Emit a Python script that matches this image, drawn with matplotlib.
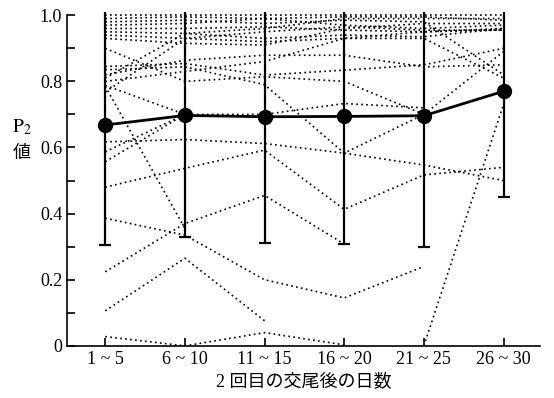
import numpy as np
import matplotlib.pyplot as plt

nan = np.nan
categories = ['1 ~ 5', '6 ~ 10', '11 ~ 15', '16 ~ 20', '21 ~ 25', '26 ~ 30']
mean_p2 = [0.668, 0.697, 0.693, 0.694, 0.696, 0.770]
lower_err = [0.305, 0.328, 0.312, 0.308, 0.298, 0.451]
upper_err = [1.05, 1.05, 1.05, 1.05, 1.05, 1.05]

# individual females (dotted), values per period
individuals = [
    [1.0, 1.0, 1.0, 1.0, 1.0, 1.0],
    [0.99, 0.995, 0.99, 0.995, 0.995, 0.985],
    [0.98, 0.985, 0.975, 0.985, 0.98, 0.82],
    [0.97, 0.975, 0.99, 0.97, 0.96, 0.97],
    [0.96, 0.96, 0.965, 0.955, 0.95, 0.955],
    [0.95, 0.945, 0.93, 0.94, 0.935, 0.96],
    [0.94, 0.93, 0.92, 0.93, 0.93, 0.81],
    [0.93, 0.915, 0.91, 0.96, 0.975, 0.975],
    [0.90, 0.80, 0.814, 0.80, 0.70, nan],
    [0.845, 0.854, 0.819, 0.834, 0.85, 0.90],
    [0.835, 0.844, 0.79, 0.583, 0.70, 0.89],
    [0.82, 0.864, 0.879, 0.879, 0.844, 0.85],
    [0.81, 0.945, 0.96, 0.99, 0.99, 0.99],
    [0.80, 0.83, 0.86, 0.93, 0.95, 0.96],
    [0.788, 0.70, nan, nan, nan, nan],
    [0.768, 0.93, 0.95, 0.965, 0.955, 0.955],
    [0.785, 0.355, nan, nan, nan, nan],
    [0.617, 0.624, 0.612, 0.583, 0.547, 0.50],
    [0.587, 0.70, 0.70, 0.733, 0.72, nan],
    [0.557, 0.70, nan, nan, nan, nan],
    [0.48, 0.537, 0.592, 0.413, 0.517, 0.54],
    [0.386, 0.335, 0.20, 0.145, 0.24, nan],
    [0.224, 0.37, 0.455, 0.308, nan, nan],
    [0.106, 0.265, 0.076, nan, nan, nan],
    [0.028, 0.0, 0.04, 0.003, nan, nan],
    [nan, nan, nan, nan, 0.0, 0.73],
]

plt.rcParams['font.family'] = ['Liberation Serif', 'Noto Sans CJK JP']
plt.rcParams['mathtext.fontset'] = 'stix'

fig = plt.figure(figsize=(5.54, 3.98), dpi=100)
ax = fig.add_axes([0.121, 0.131, 0.854, 0.839])
x = np.arange(len(categories))

for vals in individuals:
    ax.plot(x, vals, color='black', lw=1.2, ls=(0, (1, 2)))

yerr = [np.array(mean_p2) - np.array(lower_err), np.array(upper_err) - np.array(mean_p2)]
ax.errorbar(x, mean_p2, yerr=yerr, color='black', lw=2, marker='o', ms=10,
            elinewidth=1.6, capsize=4, capthick=1.6)

ax.set_xlim(-0.48, 5.46)
ax.set_ylim(0, 1.01)
ax.spines['top'].set_visible(False)
ax.spines['right'].set_visible(False)
ax.spines['left'].set_bounds(0, 1.0)
ax.spines['left'].set_linewidth(1.2)
ax.spines['bottom'].set_linewidth(1.2)

ax.set_xticks(x)
ax.set_xticklabels(categories, fontsize=13)
ax.set_yticks([0, 0.2, 0.4, 0.6, 0.8, 1.0])
ax.set_yticklabels(['0', '0.2', '0.4', '0.6', '0.8', '1.0'], fontsize=13)
ax.set_yticks(np.arange(0.1, 1.0, 0.2), minor=True)
ax.tick_params(direction='in', length=6, width=1.2)
ax.tick_params(which='minor', direction='in', length=6, width=1.2)

ax.set_xlabel('2 回目の交尾後の日数', fontsize=13, labelpad=4)
fig.text(0.04, 0.68, '$\\mathrm{P}_2$', fontsize=14, ha='center', va='center')
fig.text(0.04, 0.615, '値', fontsize=13, ha='center', va='center')

fig.savefig('out.png', dpi=100)
